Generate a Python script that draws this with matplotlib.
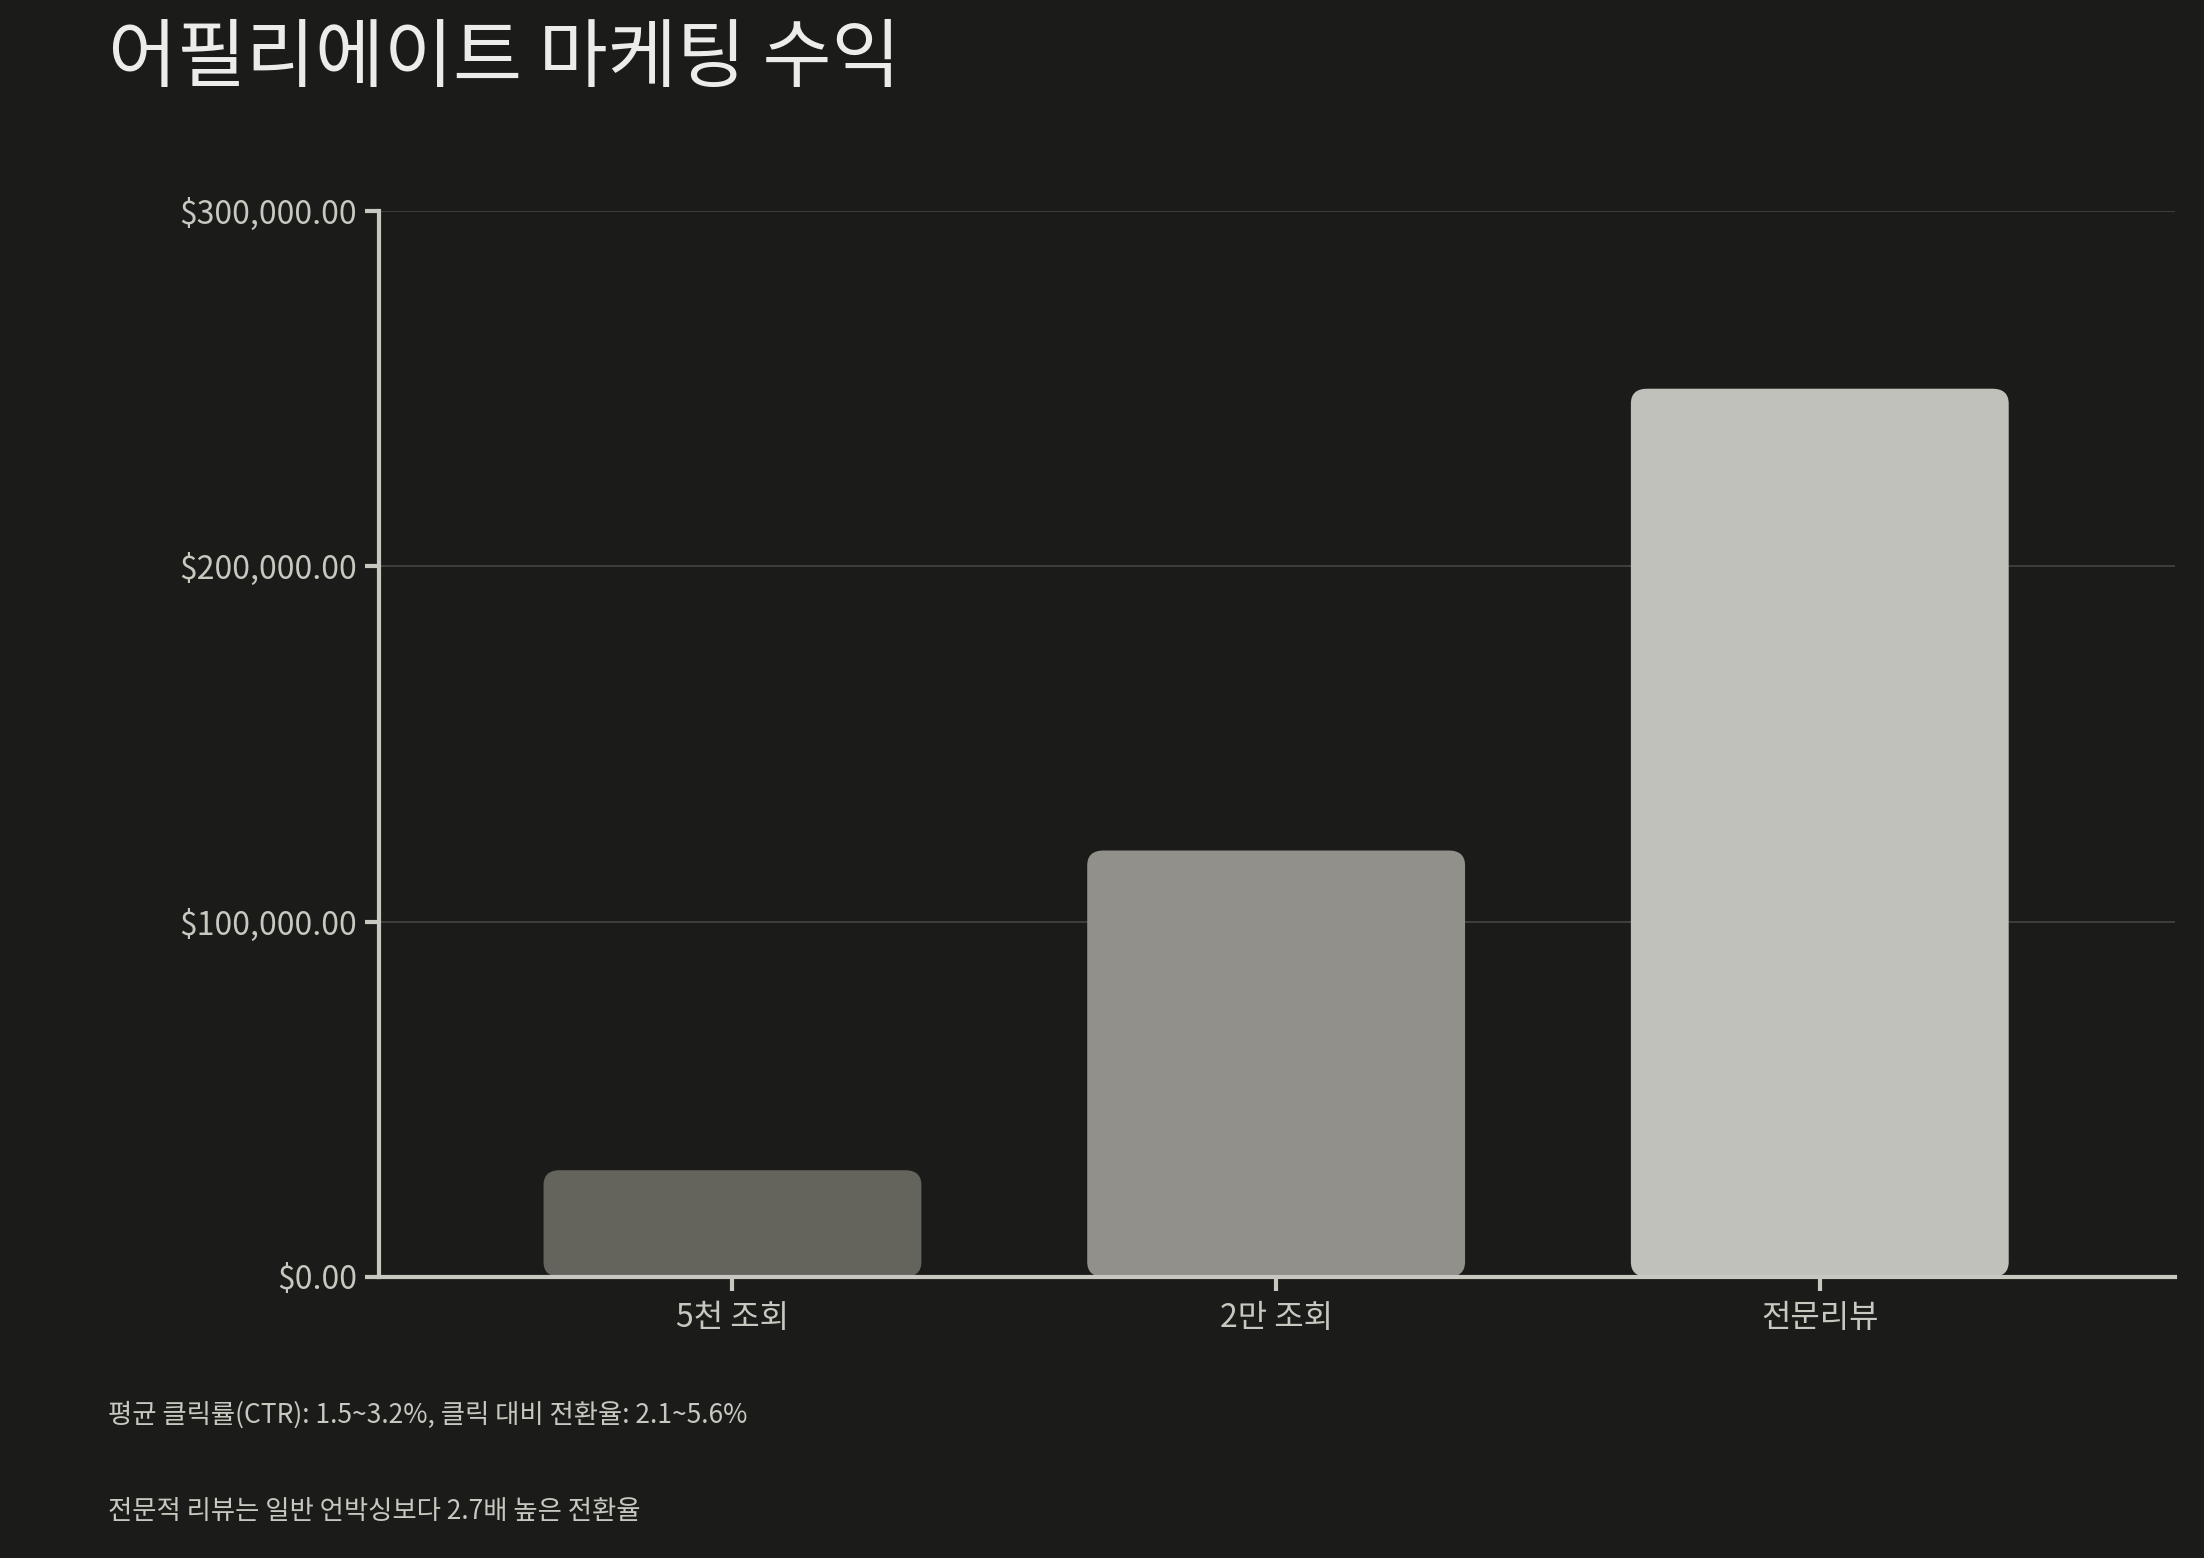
import matplotlib.pyplot as plt
from matplotlib.patches import FancyBboxPatch
from matplotlib.ticker import FuncFormatter

plt.rcParams['font.family'] = ['Noto Sans CJK KR', 'DejaVu Sans']

categories = ['5천 조회', '2만 조회', '전문리뷰']
revenue = [30000, 120000, 250000]
bar_colors = ['#65645c', '#91908a', '#c1c1bc']
notes = ['평균 클릭률(CTR): 1.5~3.2%, 클릭 대비 전환율: 2.1~5.6%',
         '전문적 리뷰는 일반 언박싱보다 2.7배 높은 전환율']

bg = '#1b1b19'
fg = '#c8c8c0'

fig = plt.figure(figsize=(22.04, 15.58), dpi=100, facecolor=bg)
ax = fig.add_axes([0.172, 0.1805, 0.815, 0.684], facecolor=bg)

width = 0.695
for i, (v, c) in enumerate(zip(revenue, bar_colors)):
    ax.add_patch(FancyBboxPatch((i - width / 2, 0), width, v,
                                boxstyle='round,pad=0,rounding_size=0.03',
                                mutation_aspect=140000, facecolor=c,
                                edgecolor='none', zorder=2))

ax.set_xlim(-0.65, 2.654)
ax.set_ylim(0, 300000)
ax.set_xticks(range(len(categories)))
ax.set_xticklabels(categories)
ax.set_yticks([0, 100000, 200000, 300000])
ax.yaxis.set_major_formatter(FuncFormatter(lambda v, p: f'${v:,.2f}'))
ax.grid(axis='y', color='#444441', linewidth=1.2, zorder=0)

for s in ['top', 'right']:
    ax.spines[s].set_visible(False)
for s in ['left', 'bottom']:
    ax.spines[s].set_color(fg)
    ax.spines[s].set_linewidth(3)
ax.tick_params(colors=fg, labelsize=23, width=3, length=10, pad=6)
ax.tick_params(axis='x', pad=8)

fig.text(0.049, 0.962, '어필리에이트 마케팅 수익', color='#ececea', fontsize=54,
         va='center', ha='left')
fig.text(0.049, 0.092, notes[0], color=fg, fontsize=19, va='center')
fig.text(0.049, 0.030, notes[1], color=fg, fontsize=19, va='center')

fig.savefig('out.png', facecolor=bg)
